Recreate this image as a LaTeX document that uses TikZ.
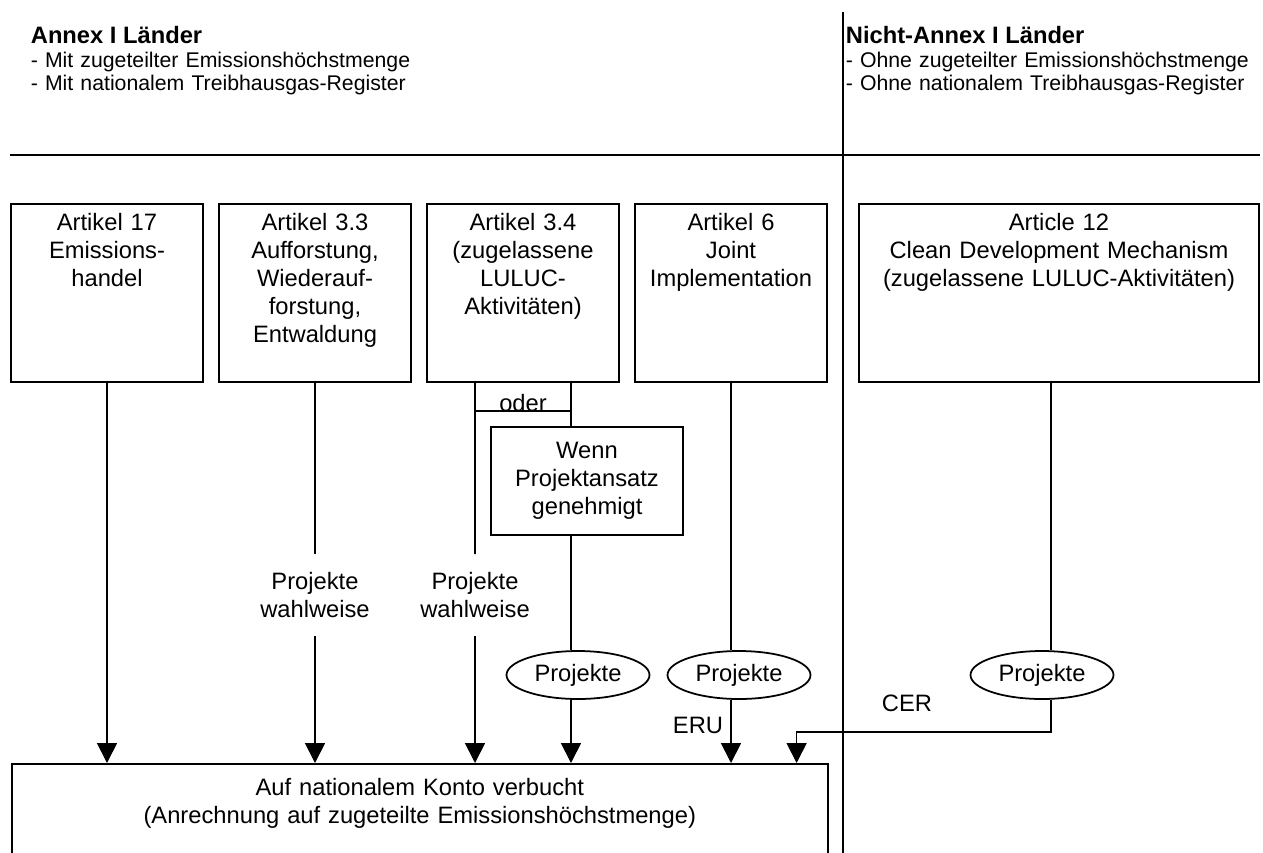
\documentclass[tikz,border=0pt]{standalone}
\usepackage{fontspec}
\setmainfont{Liberation Sans}
\usepackage{tikz}
\usetikzlibrary{arrows.meta, shapes.geometric, positioning, calc}
\usepackage{xcolor}

\begin{document}
\begin{tikzpicture}[x=0.02cm, y=-0.02cm, line width=1pt,
    every node/.style={font=\fontsize{13.5}{15.9}\selectfont},
    headtitle/.style={anchor=base west, inner sep=0pt, font=\bfseries\fontsize{13.5}{15}\selectfont},
    headlist/.style={anchor=base west, align=left, text width=10cm, inner sep=0pt,
      font=\fontsize{12.1}{13.65}\selectfont},
    artbox/.style={draw, anchor=north, align=center, inner sep=0pt, text width=3.84cm,
      text height=0.54cm, text depth=3.02cm},
    wennbox/.style={draw, align=center, inner sep=0pt, minimum width=3.84cm, minimum height=2.16cm},
    kontobox/.style={draw, anchor=north west, align=center, inner sep=0pt, text width=16.32cm,
      text height=0.64cm, text depth=2.2cm},
    proj/.style={ellipse, draw, inner sep=0pt, minimum width=2.86cm, minimum height=0.96cm},
    wahl/.style={align=center, inner sep=0pt, minimum height=1.6cm},
    arr/.style={-{Triangle[length=0.4cm, width=0.4cm]}}]
  \useasboundingbox (0,0) rectangle (1263,852);
  \clip (0,0) rectangle (1263,852);

  \node[headtitle] (annex) at (30,43) {Annex I Länder};
  \node[headlist] (annexlist) at (30,67)
    {- Mit zugeteilter Emissionshöchstmenge\\- Mit nationalem Treibhausgas-Register};
  \node[headtitle] (nichtannex) at (845,43) {Nicht-Annex I Länder};
  \node[headlist] (nichtannexlist) at (845,67)
    {- Ohne zugeteilter Emissionshöchstmenge\\- Ohne nationalem Treibhausgas-Register};

  \draw (10,155) -- (1260,155);
  \draw (843,12) -- (843,860);

  \node[artbox] (b17) at (107,203) {Artikel 17\\Emissions-\\handel};
  \node[artbox] (b33) at (315,203) {Artikel 3.3\\Aufforstung,\\Wiederauf-\\forstung,\\Entwaldung};
  \node[artbox] (b34) at (523,203) {Artikel 3.4\\(zugelassene\\LULUC-\\Aktivitäten)};
  \node[artbox] (b6) at (731,203) {Artikel 6\\Joint\\Implementation};
  \node[artbox, text width=8cm] (b12) at (1059,203)
    {Article 12\\Clean Development Mechanism\\(zugelassene LULUC-Aktivitäten)};

  \node[kontobox] (konto) at (11,763)
    {Auf nationalem Konto verbucht\\(Anrechnung auf zugeteilte Emissionshöchstmenge)};

  \draw[arr] (b17.south) -- (b17.south |- konto.north);

  \node[wahl] (pw33) at (315,595) {Projekte\\wahlweise};
  \draw (b33.south) -- (pw33.north);
  \draw[arr] (pw33.south) -- (pw33.south |- konto.north);

  \coordinate (l34) at ([xshift=-0.96cm]b34.south);
  \coordinate (r34) at ([xshift=0.96cm]b34.south);
  \node[wahl] (pw34) at (475,595) {Projekte\\wahlweise};
  \draw (l34) -- (pw34.north);
  \draw[arr] (pw34.south) -- (pw34.south |- konto.north);
  \draw (l34 |- 0,411) -- node[anchor=base, inner sep=0pt] (oder) {oder} (r34 |- 0,411);
  \node[wennbox] (wenn) at (587,481) {Wenn\\Projektansatz\\genehmigt};
  \draw (r34) -- (r34 |- wenn.north);
  \node[proj] (p34) at (578,675) {Projekte};
  \draw (r34 |- wenn.south) -- (r34 |- p34.north);
  \draw[arr] (r34 |- p34.south) -- (r34 |- konto.north);

  \node[proj] (p6) at (739,675) {Projekte};
  \draw (b6.south) -- (b6.south |- p6.north);
  \draw[arr] (b6.south |- p6.south) -- (b6.south |- konto.north);
  \node (eru) at (698,725) {ERU};

  \coordinate (x12) at ([xshift=-0.16cm]b12.south);
  \coordinate (cerin) at ([xshift=-0.64cm]konto.north east);
  \node[proj] (p12) at (1042,675) {Projekte};
  \draw (x12) -- (x12 |- p12.north);
  \draw[arr] (x12 |- p12.south) |- ([yshift=0.62cm]cerin) -- (cerin);
  \node (cer) at (907,703) {CER};
\end{tikzpicture}
\end{document}
